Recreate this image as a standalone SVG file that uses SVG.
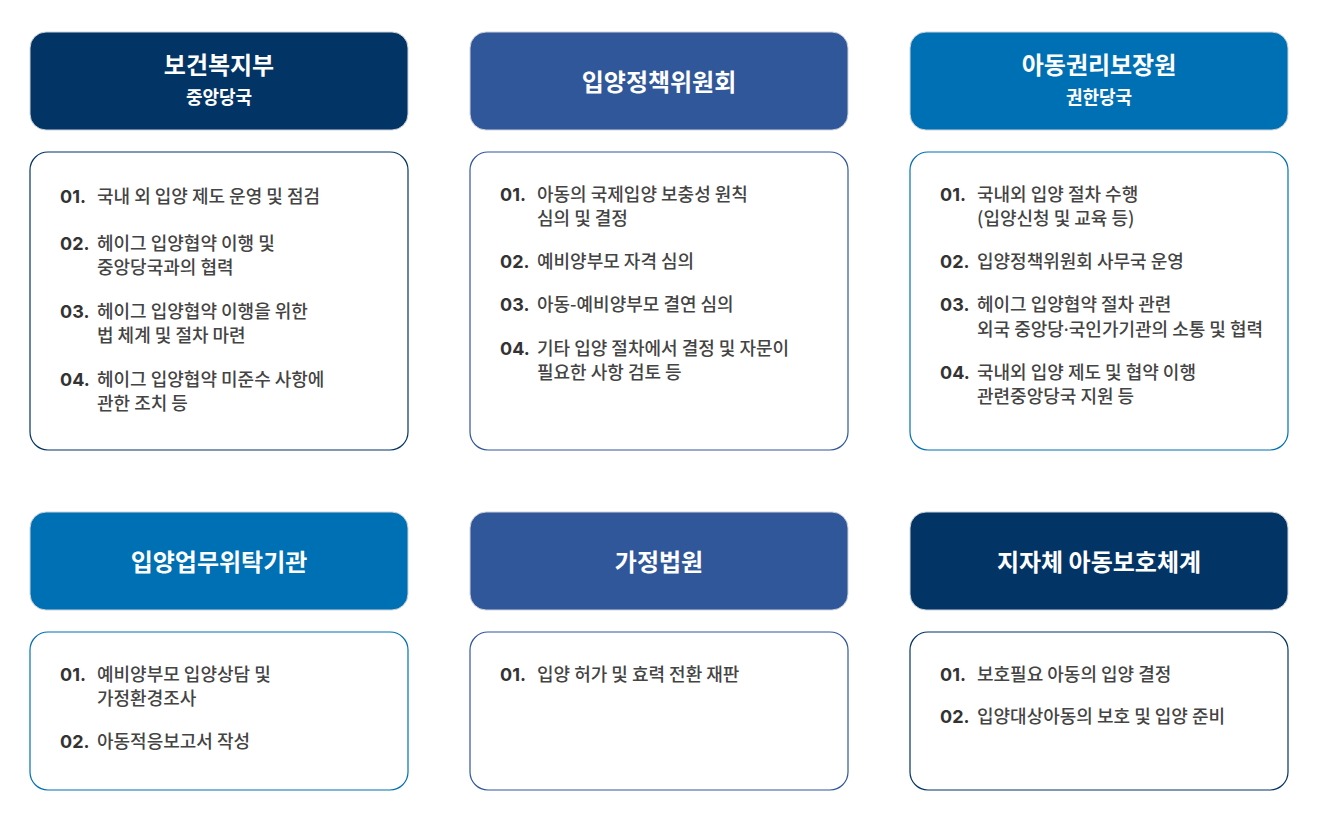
<svg xmlns="http://www.w3.org/2000/svg" width="1317" height="822" viewBox="0 0 1317 822">
<style>
.hd{stroke:#cfd3d8;stroke-width:1}
.navy{fill:#033466}
.mid{fill:#30579A}
.bright{fill:#0070B4}
.box{fill:#fff;stroke-width:1.2}
.bn{stroke:#033466}
.bm{stroke:#30579A}
.bb{stroke:#0070B4}
.t{font-family:"Noto Sans CJK KR","Noto Sans",sans-serif;font-weight:700;fill:#fff;text-anchor:middle;font-size:24px}
.s{font-family:"Noto Sans CJK KR","Noto Sans",sans-serif;font-weight:700;fill:#fff;text-anchor:middle;font-size:18px}
.n{font-family:Inter,"Noto Sans CJK KR",sans-serif;font-weight:700;fill:#333;font-size:18px}
.x{font-family:"Noto Sans CJK KR","Noto Sans",sans-serif;font-weight:500;fill:#444;font-size:18px}
.dot{font-family:"Noto Sans",sans-serif}
</style>
<rect width="1317" height="822" fill="#fff"/>
<g id="connectors"></g>

<g id="node-mohw">
<rect class="hd navy" x="30" y="32" width="378" height="98" rx="16"/>
<text class="t" x="219" y="74">보건복지부</text>
<text class="s" x="219" y="104">중앙당국</text>
<rect class="box bn" x="30" y="152" width="378" height="298" rx="18"/>
<text class="n" x="60" y="203">01.</text><text class="x" x="97" y="203">국내 외 입양 제도 운영 및 점검</text>
<text class="n" x="60" y="250">02.</text><text class="x" x="97" y="250">헤이그 입양협약 이행 및<tspan x="97" dy="24">중앙당국과의 협력</tspan></text>
<text class="n" x="60" y="318">03.</text><text class="x" x="97" y="318">헤이그 입양협약 이행을 위한<tspan x="97" dy="24">법 체계 및 절차 마련</tspan></text>
<text class="n" x="60" y="386">04.</text><text class="x" x="97" y="386">헤이그 입양협약 미준수 사항에<tspan x="97" dy="24">관한 조치 등</tspan></text>
</g>

<g id="node-committee">
<rect class="hd mid" x="470" y="32" width="378" height="98" rx="16"/>
<text class="t" x="659" y="91">입양정책위원회</text>
<rect class="box bm" x="470" y="152" width="378" height="298" rx="18"/>
<text class="n" x="500" y="201">01.</text><text class="x" x="537" y="201">아동의 국제입양 보충성 원칙<tspan x="537" dy="24">심의 및 결정</tspan></text>
<text class="n" x="500" y="268">02.</text><text class="x" x="537" y="268">예비양부모 자격 심의</text>
<text class="n" x="500" y="311">03.</text><text class="x" x="537" y="311">아동-예비양부모 결연 심의</text>
<text class="n" x="500" y="355">04.</text><text class="x" x="537" y="355">기타 입양 절차에서 결정 및 자문이<tspan x="537" dy="24">필요한 사항 검토 등</tspan></text>
</g>

<g id="node-ncrc">
<rect class="hd bright" x="910" y="32" width="378" height="98" rx="16"/>
<text class="t" x="1099" y="74">아동권리보장원</text>
<text class="s" x="1099" y="104">권한당국</text>
<rect class="box bb" x="910" y="152" width="378" height="298" rx="18"/>
<text class="n" x="940" y="201">01.</text><text class="x" x="977" y="201">국내외 입양 절차 수행<tspan x="977" dy="24">(입양신청 및 교육 등)</tspan></text>
<text class="n" x="940" y="268">02.</text><text class="x" x="977" y="268">입양정책위원회 사무국 운영</text>
<text class="n" x="940" y="311">03.</text><text class="x" x="977" y="311">헤이그 입양협약 절차 관련<tspan x="977" dy="25">외국 중앙당<tspan class="dot">·</tspan>국인가기관의 소통 및 협력</tspan></text>
<text class="n" x="940" y="379">04.</text><text class="x" x="977" y="379">국내외 입양 제도 및 협약 이행<tspan x="977" dy="24">관련중앙당국 지원 등</tspan></text>
</g>

<g id="node-agency">
<rect class="hd bright" x="30" y="512" width="378" height="98" rx="16"/>
<text class="t" x="219" y="571">입양업무위탁기관</text>
<rect class="box bb" x="30" y="632" width="378" height="158" rx="18"/>
<text class="n" x="60" y="681">01.</text><text class="x" x="97" y="681">예비양부모 입양상담 및<tspan x="97" dy="24">가정환경조사</tspan></text>
<text class="n" x="60" y="748">02.</text><text class="x" x="97" y="748">아동적응보고서 작성</text>
</g>

<g id="node-court">
<rect class="hd mid" x="470" y="512" width="378" height="98" rx="16"/>
<text class="t" x="659" y="571">가정법원</text>
<rect class="box bm" x="470" y="632" width="378" height="158" rx="18"/>
<text class="n" x="500" y="681">01.</text><text class="x" x="537" y="681">입양 허가 및 효력 전환 재판</text>
</g>

<g id="node-local">
<rect class="hd navy" x="910" y="512" width="378" height="98" rx="16"/>
<text class="t" x="1099" y="571">지자체 아동보호체계</text>
<rect class="box bn" x="910" y="632" width="378" height="158" rx="18"/>
<text class="n" x="940" y="681">01.</text><text class="x" x="977" y="681">보호필요 아동의 입양 결정</text>
<text class="n" x="940" y="723">02.</text><text class="x" x="977" y="723">입양대상아동의 보호 및 입양 준비</text>
</g>
</svg>
